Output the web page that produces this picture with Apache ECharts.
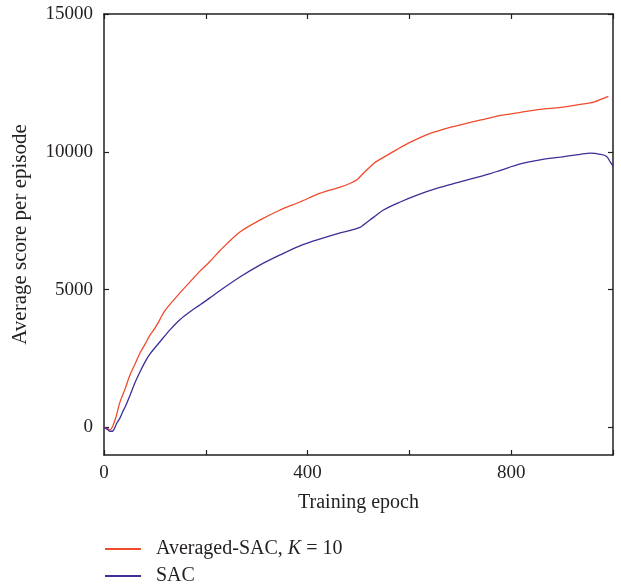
<!DOCTYPE html>
<html>
<head>
<meta charset="utf-8">
<script src="https://cdn.jsdelivr.net/npm/echarts@6/dist/echarts.min.js"></script>
<style>html,body{margin:0;padding:0;background:#fff}#c{width:621px;height:588px}</style>
</head>
<body>
<div id="c"></div>
<script>
// Averaged-SAC, K = 10 (red)
var epochsAvg = [0, 6, 12, 22, 31, 41, 51, 61, 71, 81, 90, 100, 110, 120, 149, 169, 189, 208, 228, 267, 307, 346, 385, 425, 464, 484, 497, 510, 530, 549, 576, 602, 641, 680, 720, 759, 779, 818, 857, 897, 936, 962, 981, 991];
var averagedSAC = [0, -40, -90, 290, 900, 1375, 1900, 2300, 2710, 3030, 3340, 3600, 3920, 4250, 4880, 5280, 5680, 6020, 6420, 7090, 7530, 7890, 8180, 8500, 8720, 8860, 8990, 9230, 9580, 9800, 10090, 10350, 10670, 10890, 11070, 11230, 11320, 11430, 11540, 11610, 11720, 11800, 11940, 12010];
// SAC (blue)
var epochsSAC = [0, 6, 12, 18, 25, 31, 37, 41, 51, 61, 71, 81, 90, 110, 130, 149, 169, 189, 208, 228, 267, 307, 346, 385, 425, 464, 484, 503, 510, 530, 549, 582, 615, 655, 694, 734, 759, 779, 818, 857, 897, 936, 956, 975, 987, 995, 1000];
var sac = [0, -60, -145, -120, 150, 330, 580, 720, 1160, 1630, 2030, 2390, 2660, 3110, 3550, 3910, 4200, 4450, 4700, 4970, 5460, 5900, 6260, 6590, 6840, 7060, 7150, 7260, 7350, 7630, 7890, 8180, 8430, 8680, 8880, 9080, 9210, 9330, 9560, 9710, 9810, 9910, 9950, 9910, 9840, 9620, 9480];
var xTicks = [0, 400, 800];
var yTicks = [0, 5000, 10000, 15000];
var seriesNames = ['Averaged-SAC, K = 10', 'SAC'];

function pairs(xs, ys) { return xs.map(function (x, i) { return [x, ys[i]]; }); }

var font = 'Liberation Serif';
var ink = '#231f20';
var lineAxis = { onZero: false, show: true, lineStyle: { color: ink, width: 1.5 } };
var richText = {
  fontFamily: font, fontSize: 20, color: ink, padding: [0, 0, 0, 10],
  rich: { it: { fontFamily: font, fontSize: 20, fontStyle: 'italic', color: ink }, n: { fontFamily: font, fontSize: 20, color: ink } }
};
function legendFmt(name) {
  if (name === seriesNames[0]) return '{n|Averaged-SAC, }{it|K}{n| = 10}';
  return '{n|' + name + '}';
}
var chart = echarts.init(document.getElementById('c'));
chart.setOption({
  animation: false,
  backgroundColor: '#fff',
  grid: { left: 104, right: 8, top: 14, bottom: 133, containLabel: false },
  legend: [{
    left: 100, top: 534, itemWidth: 36, itemHeight: 2, icon: 'rect',
    data: [seriesNames[0]], textStyle: richText, formatter: legendFmt
  }, {
    left: 100, top: 561, itemWidth: 36, itemHeight: 2, icon: 'rect',
    data: [seriesNames[1]], textStyle: richText, formatter: legendFmt
  }],
  xAxis: [{
    type: 'value', min: 0, max: 1000, interval: 200, position: 'bottom',
    name: 'Training epoch', nameLocation: 'middle', nameGap: 38,
    nameTextStyle: { fontFamily: font, fontSize: 20, color: ink },
    axisLine: lineAxis,
    axisTick: { inside: true, length: 5, lineStyle: { color: ink, width: 1.2 } },
    splitLine: { show: false },
    axisLabel: {
      fontFamily: font, fontSize: 19, color: ink, margin: 9,
      formatter: function (v) { return xTicks.indexOf(v) >= 0 ? String(v) : ''; }
    }
  }, {
    type: 'value', min: 0, max: 1000, interval: 200, position: 'top',
    axisLine: lineAxis,
    axisTick: { inside: true, length: 5, lineStyle: { color: ink, width: 1.2 } },
    splitLine: { show: false }, axisLabel: { show: false }
  }],
  yAxis: [{
    type: 'value', min: -1000, max: 15000, position: 'left',
    name: 'Average score per episode', nameLocation: 'middle', nameGap: 73,
    nameTextStyle: { fontFamily: font, fontSize: 21, color: ink },
    axisLine: lineAxis,
    axisTick: { show: true, inside: true, length: 5, customValues: yTicks, lineStyle: { color: ink, width: 1.2 } },
    splitLine: { show: false },
    axisLabel: { fontFamily: font, fontSize: 19, color: ink, margin: 11, customValues: yTicks, formatter: function (v) { return String(v); } }
  }, {
    type: 'value', min: -1000, max: 15000, position: 'right',
    axisLine: lineAxis,
    axisTick: { show: true, inside: true, length: 5, customValues: yTicks, lineStyle: { color: ink, width: 1.2 } },
    splitLine: { show: false }, axisLabel: { show: false }
  }],
  series: [{
    name: seriesNames[0], type: 'line', xAxisIndex: 0, yAxisIndex: 0,
    data: pairs(epochsAvg, averagedSAC), showSymbol: false, symbol: 'none', smooth: 0.3,
    lineStyle: { color: '#ef4b2c', width: 1.3 }, itemStyle: { color: '#ef4b2c' }
  }, {
    name: seriesNames[1], type: 'line', xAxisIndex: 0, yAxisIndex: 0,
    data: pairs(epochsSAC, sac), showSymbol: false, symbol: 'none', smooth: 0.3,
    lineStyle: { color: '#3b2f98', width: 1.3 }, itemStyle: { color: '#3b2f98' }
  }]
});
</script>
</body>
</html>
